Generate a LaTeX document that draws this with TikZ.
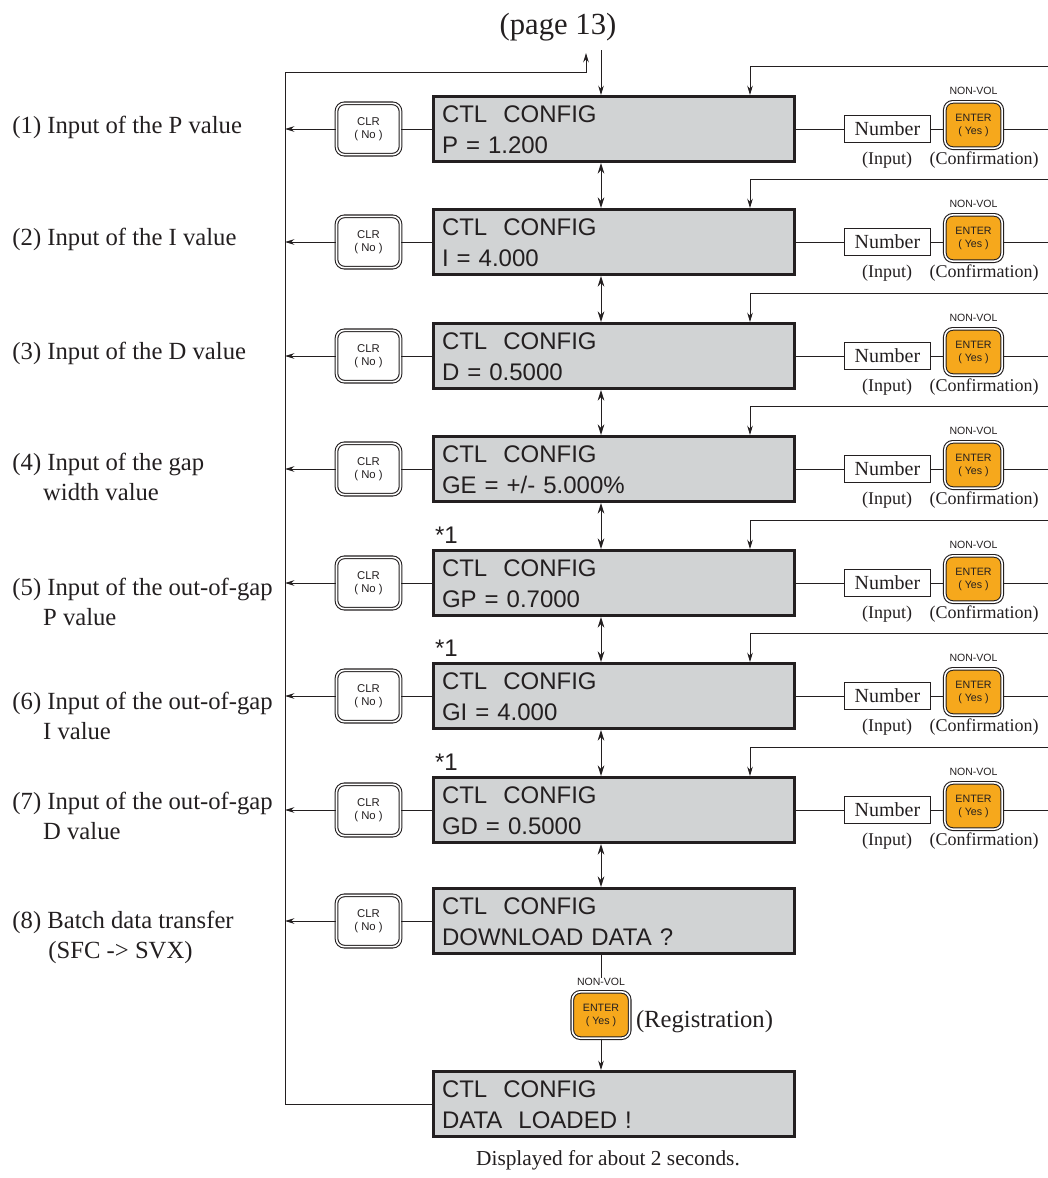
\documentclass[tikz,border=0pt]{standalone}
\usepackage{fontspec}
\setmainfont{Liberation Serif}
\setsansfont{Liberation Sans}
\usetikzlibrary{arrows.meta,positioning}
\definecolor{lcdgray}{RGB}{209,211,212}
\definecolor{keyorange}{RGB}{246,168,28}
\definecolor{ink}{RGB}{35,31,32}
\newcommand\lcdlines[2]{\rule{0pt}{19pt}#1\\#2\rule[-6pt]{0pt}{6pt}}

\begin{document}
\begin{tikzpicture}[x=0.75pt,y=-0.75pt,line width=0.7pt,color=ink,
  arr/.style={-{Stealth[length=7pt,width=4.2pt]}},
  twoway/.style={{Stealth[length=8pt,width=5pt]}-{Stealth[length=8pt,width=5pt]}},
  lcd/.style={draw,fill=lcdgray,line width=2.2pt,minimum width=271pt,minimum height=48.75pt,
    inner xsep=6.5pt,inner ysep=0pt,text width=258pt,align=left,font=\fontsize{18}{23}\selectfont\sffamily},
  clrkey/.style={draw,double,double distance=1.2pt,line width=0.8pt,rounded corners=6pt,
    minimum width=48pt,minimum height=38.5pt,inner sep=0pt,align=center,font=\fontsize{8.5}{9.5}\selectfont\sffamily},
  enterkey/.style={clrkey,fill=keyorange,minimum width=43pt,minimum height=34.7pt,font=\fontsize{8}{9.8}\selectfont\sffamily},
  nonvol/.style={inner sep=0pt,font=\fontsize{7.9}{9}\selectfont\sffamily},
  numbox/.style={draw,line width=0.8pt,minimum width=64pt,minimum height=20pt,inner sep=0pt,font=\fontsize{15}{18}\selectfont},
  undernote/.style={inner sep=0pt,font=\fontsize{13.5}{16}\selectfont},
  sidenote/.style={inner sep=0pt,anchor=west,align=left,font=\fontsize{18.5}{22.5}\selectfont},
  starnote/.style={inner sep=0pt,anchor=base west,font=\fontsize{18}{20}\selectfont\sffamily}]
  \useasboundingbox (0,0) rectangle (1048,1178);
  \node[inner sep=0pt,font=\fontsize{23}{26}\selectfont] (page) at (558,27) {(page 13)};
  \coordinate (spine) at (601,50);
  \coordinate (bus) at (285,72);
  \coordinate (back) at (586,53);
  \coordinate (tap) at (750,0);
  % displays, CLR keys, left labels
  \foreach \i/\y/\val/\ly/\lab in {
      1/129/{P = 1.200}/127/{(1) Input of the P value},
      2/242/{I = 4.000}/239/{(2) Input of the I value},
      3/356/{D = 0.5000}/353/{(3) Input of the D value},
      4/469/{GE = +/- 5.000\%}/477/{(4) Input of the gap\\\hspace*{23pt}width value},
      5/583/{GP = 0.7000}/602/{(5) Input of the out-of-gap\\\hspace*{23pt}P value},
      6/696/{GI = 4.000}/716/{(6) Input of the out-of-gap\\\hspace*{23pt}I value},
      7/810/{GD = 0.5000}/816/{(7) Input of the out-of-gap\\\hspace*{23pt}D value},
      8/921/{DOWNLOAD DATA ?}/937/{(8) Batch data transfer\\\hspace*{27pt}(SFC -> SVX)}} {
    \node[lcd] (d\i) at (614,\y) {\lcdlines{CTL\ \ CONFIG}{\val}};
    \node[clrkey] (clr\i) at (368.5,\y) {CLR\\( No )};
    \node[sidenote] (lab\i) at (12,\ly) {\lab};
    \draw (clr\i.east) -- (d\i.west);
    \draw[arr] (clr\i.west) -- (clr\i.west -| bus);
  }
  \node[lcd] (d9) at (614,1104) {\lcdlines{CTL\ \ CONFIG}{DATA\ \ LOADED !}};
  \foreach \i in {5,6,7}
    \node[starnote] (star\i) at ([xshift=2pt,yshift=4pt]d\i.north west) {*1};
  % number entry and confirmation
  \foreach \i/\y in {1/129,2/242,3/356,4/469,5/583,6/696,7/810} {
    \node[numbox] (num\i) at (887.5,\y) {Number};
    \node[enterkey] (ent\i) at (973.5,\y-4) {ENTER\\( Yes )};
    \node[nonvol] (nv\i) at (973.5,\y-38) {NON-VOL};
    \node[undernote] (in\i) at (887,\y+31) {(Input)};
    \node[undernote] (cf\i) at (984,\y+31) {(Confirmation)};
    \coordinate (out\i) at (1048,\y);
    \coordinate (feed\i) at (1048,\y-63);
    \draw (d\i.east) -- (num\i.west);
    \draw (num\i.east) -- (num\i.east -| ent\i.west);
    \draw (ent\i.east |- out\i) -- (out\i);
    \draw[arr] (feed\i) -| (tap |- d\i.north);
  }
  \draw[arr] (spine) -- (spine |- d1.north);
  \foreach \i/\j in {1/2,2/3,3/4,4/5,5/6,6/7,7/8}
    \draw[twoway] (d\i.south -| spine) -- (d\j.north -| spine);
  % batch transfer
  \node[nonvol] (nv8) at (601,982) {NON-VOL};
  \node[enterkey] (ent8) at (601,1015) {ENTER\\( Yes )};
  \node[inner sep=0pt,anchor=west,font=\fontsize{18.5}{22}\selectfont] (reg) at ([xshift=4pt,yshift=-5pt]ent8.east) {(Registration)};
  \draw (d8.south -| spine) -- (nv8.north);
  \draw[arr] (ent8.south) -- (d9.north -| ent8.south);
  \draw[arr] (d9.west) -| (bus) -| (back);
  \node[inner sep=0pt,font=\fontsize{16}{19}\selectfont] (note) at (608,1160) {Displayed for about 2 seconds.};
\end{tikzpicture}
\end{document}
